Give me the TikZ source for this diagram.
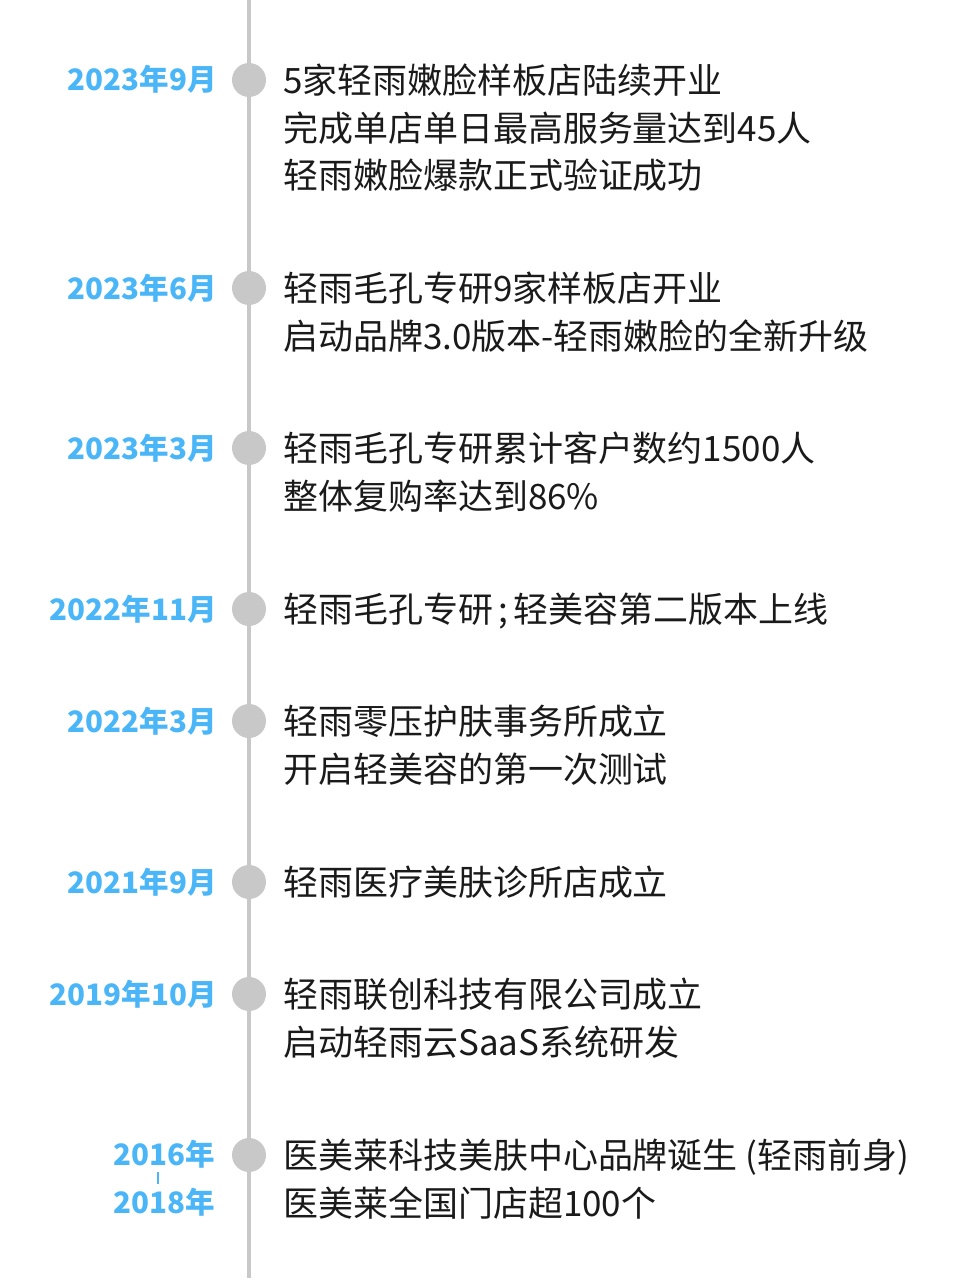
\documentclass[tikz,border=0pt]{standalone}
\usepackage{fontspec}
\setmainfont{Noto Sans CJK SC}
\definecolor{dateblue}{RGB}{74,182,248}
\definecolor{linegray}{RGB}{200,200,200}
\definecolor{textblack}{RGB}{26,26,26}
\tikzset{
  datelabel/.style={anchor=base east,inner sep=0pt,text=dateblue,font=\fontsize{16.8}{27.3}\selectfont\bfseries},
  eventtext/.style={anchor=base west,inner sep=0pt,align=left,text=textblack,font=\fontsize{19.9}{27.3}\selectfont},
  dot/.style={circle,fill=linegray,inner sep=0pt,minimum size=0.68cm}
}
\begin{document}
\begin{tikzpicture}[x=0.02cm,y=-0.02cm]
\useasboundingbox (0,0) rectangle (960,1280);
\coordinate (top) at (249,0);
\coordinate (bottom) at (249,1278);

\draw[linegray,line width=1.8pt] (top) -- (bottom);

\foreach \y/\n in {80/a,288/b,448/c,609/d,721/e,882/f,994/g,1155/h}
  \node[dot] (dot\n) at (249,\y) {};

% dates (base = baseline of the last line)
\node[datelabel] (datea) at (217,91) {2023年9月};
\node[datelabel] (dateb) at (217,299) {2023年6月};
\node[datelabel] (datec) at (217,459) {2023年3月};
\node[datelabel] (dated) at (217,620) {2022年11月};
\node[datelabel] (datee) at (217,732) {2022年3月};
\node[datelabel] (datef) at (217,893) {2021年9月};
\node[datelabel] (dateg) at (217,1005) {2019年10月};
\node[datelabel,align=center] (dateh) at (215,1213) {2016年\\2018年};
\draw[dateblue,line width=1.2pt] (158,1172) -- (158,1184);

\node[eventtext] (eventa) at (283,189) {5家轻雨嫩脸样板店陆续开业\\完成单店单日最高服务量达到45人\\轻雨嫩脸爆款正式验证成功};
\node[eventtext] (eventb) at (283,349) {轻雨毛孔专研9家样板店开业\\启动品牌3.0版本-轻雨嫩脸的全新升级};
\node[eventtext] (eventc) at (283,509) {轻雨毛孔专研累计客户数约1500人\\整体复购率达到86\%};
\node[eventtext] (eventd) at (283,622) {轻雨毛孔专研\hspace{3pt};\hspace{3pt}轻美容第二版本上线};
\node[eventtext] (evente) at (283,782) {轻雨零压护肤事务所成立\\开启轻美容的第一次测试};
\node[eventtext] (eventf) at (283,895) {轻雨医疗美肤诊所店成立};
\node[eventtext] (eventg) at (283,1055) {轻雨联创科技有限公司成立\\启动轻雨云SaaS系统研发};
\node[eventtext] (eventh) at (283,1216) {医美莱科技美肤中心品牌诞生 (轻雨前身)\\医美莱全国门店超100个};
\end{tikzpicture}
\end{document}
